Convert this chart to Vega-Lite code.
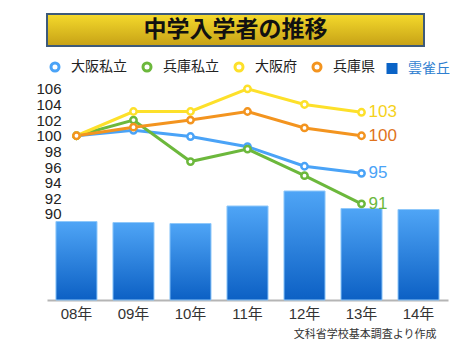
{
  "$schema": "https://vega.github.io/schema/vega-lite/v6.json",
  "padding": {"left": 35, "top": 13, "right": 0, "bottom": 0},
  "background": "white",
  "config": {"font": "Liberation Sans, Noto Sans CJK JP", "view": {"stroke": null}},
  "spacing": 13,
  "resolve": {"legend": {"color": "independent"}},
  "datasets": {
    "bars": [
      {"year": "08年", "count": 157, "school": "雲雀丘"},
      {"year": "09年", "count": 155, "school": "雲雀丘"},
      {"year": "10年", "count": 153, "school": "雲雀丘"},
      {"year": "11年", "count": 188, "school": "雲雀丘"},
      {"year": "12年", "count": 218, "school": "雲雀丘"},
      {"year": "13年", "count": 183, "school": "雲雀丘"},
      {"year": "14年", "count": 181, "school": "雲雀丘"}
    ],
    "lines": [
      {"series": "大阪私立", "year": "08年", "value": 100.0},
      {"series": "大阪私立", "year": "09年", "value": 100.7},
      {"series": "大阪私立", "year": "10年", "value": 99.9},
      {"series": "大阪私立", "year": "11年", "value": 98.6},
      {"series": "大阪私立", "year": "12年", "value": 96.1},
      {"series": "大阪私立", "year": "13年", "value": 95.2},
      {"series": "兵庫私立", "year": "08年", "value": 100.0},
      {"series": "兵庫私立", "year": "09年", "value": 102.0},
      {"series": "兵庫私立", "year": "10年", "value": 96.7},
      {"series": "兵庫私立", "year": "11年", "value": 98.3},
      {"series": "兵庫私立", "year": "12年", "value": 94.9},
      {"series": "兵庫私立", "year": "13年", "value": 91.3},
      {"series": "大阪府", "year": "08年", "value": 100.0},
      {"series": "大阪府", "year": "09年", "value": 103.1},
      {"series": "大阪府", "year": "10年", "value": 103.1},
      {"series": "大阪府", "year": "11年", "value": 106.0},
      {"series": "大阪府", "year": "12年", "value": 104.0},
      {"series": "大阪府", "year": "13年", "value": 103.0},
      {"series": "兵庫県", "year": "08年", "value": 100.0},
      {"series": "兵庫県", "year": "09年", "value": 101.1},
      {"series": "兵庫県", "year": "10年", "value": 102.0},
      {"series": "兵庫県", "year": "11年", "value": 103.1},
      {"series": "兵庫県", "year": "12年", "value": 101.0},
      {"series": "兵庫県", "year": "13年", "value": 100.0}
    ]
  },
  "vconcat": [
    {
      "width": 377,
      "height": 32,
      "view": {
        "fill": {"gradient": "linear", "x1": 0, "y1": 0, "x2": 0, "y2": 1, "stops": [{"offset": 0, "color": "#f5da2c"}, {"offset": 1, "color": "#c6a116"}]},
        "stroke": "#3d5a7a",
        "strokeWidth": 2
      },
      "data": {"values": [{"t": "中学入学者の推移"}]},
      "mark": {"type": "text", "fontSize": 23, "fontWeight": "bold", "color": "#111", "font": "Noto Sans CJK JP"},
      "encoding": {"text": {"field": "t"}}
    },
    {
      "width": 401,
      "height": 219,
      "encoding": {
        "x": {
          "field": "year", "type": "nominal",
          "scale": {"paddingInner": 0.28, "paddingOuter": 0.157},
          "axis": {
            "title": "文科省学校基本調査より作成",
            "labelAngle": 0, "labelFontSize": 15, "labelColor": "#333",
            "ticks": false, "domainColor": "#b5b5b5", "domainWidth": 2, "labelPadding": 6,
            "titleFontSize": 11, "titleFontWeight": "normal", "titleColor": "#333",
            "titleAnchor": "end", "titleX": 389, "titleY": 34, "titleAlign": "right", "titleBaseline": "middle"
          }
        }
      },
      "layer": [
        {
          "data": {"name": "bars"},
          "mark": {
            "type": "bar",
            "color": {"gradient": "linear", "x1": 0, "y1": 0, "x2": 0, "y2": 1, "stops": [{"offset": 0, "color": "#4fa5f6"}, {"offset": 1, "color": "#0c60c4"}]},
            "stroke": "#8fc8fa", "strokeWidth": 1
          },
          "encoding": {
            "y": {"field": "count", "type": "quantitative", "scale": {"domain": [0, 438]}, "axis": null}
          }
        },
        {
          "data": {"name": "lines"},
          "mark": {"type": "line", "strokeWidth": 3, "point": {"filled": false, "fill": "white", "size": 40, "strokeWidth": 2.5}},
          "encoding": {
            "y": {
              "field": "value", "type": "quantitative", "scale": {"domain": [79, 107], "nice": false, "zero": false},
              "axis": {"title": null, "values": [90, 92, 94, 96, 98, 100, 102, 104, 106], "domain": false, "ticks": false, "grid": false, "labelFontSize": 15, "labelColor": "#222", "offset": -14, "labelPadding": 0}
            },
            "color": {
              "field": "series", "type": "nominal",
              "scale": {"domain": ["大阪私立", "兵庫私立", "大阪府", "兵庫県", "雲雀丘"], "range": ["#4aa3f7", "#6cb83c", "#fde02a", "#f3941f", "#0a63c6"]},
              "legend": {
                "title": null, "orient": "none", "direction": "horizontal", "legendX": 1, "legendY": -21,
                "symbolType": "circle", "symbolSize": 64, "symbolStrokeWidth": 3, "symbolFillColor": "white",
                "labelFont": "Noto Sans CJK JP", "labelFontSize": 14, "labelColor": "#222", "labelOffset": 9, "columnPadding": 10,
                "encode": {
                  "symbols": {"update": {
                    "shape": {"signal": "datum.value === '雲雀丘' ? 'square' : 'circle'"},
                    "size": {"signal": "datum.value === '雲雀丘' ? 121 : 64"},
                    "fill": {"signal": "datum.value === '雲雀丘' ? '#0a63c6' : 'white'"},
                    "strokeWidth": {"signal": "datum.value === '雲雀丘' ? 0 : 3"}
                  }},
                  "labels": {"update": {
                    "fill": {"signal": "datum.value === '雲雀丘' ? '#2f7fd0' : '#222'"}
                  }}
                }
              }
            }
          }
        },
        {
          "data": {"name": "lines"},
          "transform": [{"filter": "datum.year === '13年'"}],
          "mark": {"type": "text", "align": "left", "baseline": "middle", "dx": 7, "fontSize": 17},
          "encoding": {
            "y": {"field": "value", "type": "quantitative", "scale": {"domain": [79, 107], "nice": false, "zero": false}, "axis": null},
            "text": {"field": "value", "format": ".0f"},
            "fill": {
              "field": "series", "type": "nominal",
              "scale": {"domain": ["大阪私立", "兵庫私立", "大阪府", "兵庫県"], "range": ["#4aa3f7", "#6cb83c", "#f5d21b", "#e0731c"]},
              "legend": null
            }
          }
        }
      ],
      "resolve": {"scale": {"y": "independent"}}
    }
  ]
}
